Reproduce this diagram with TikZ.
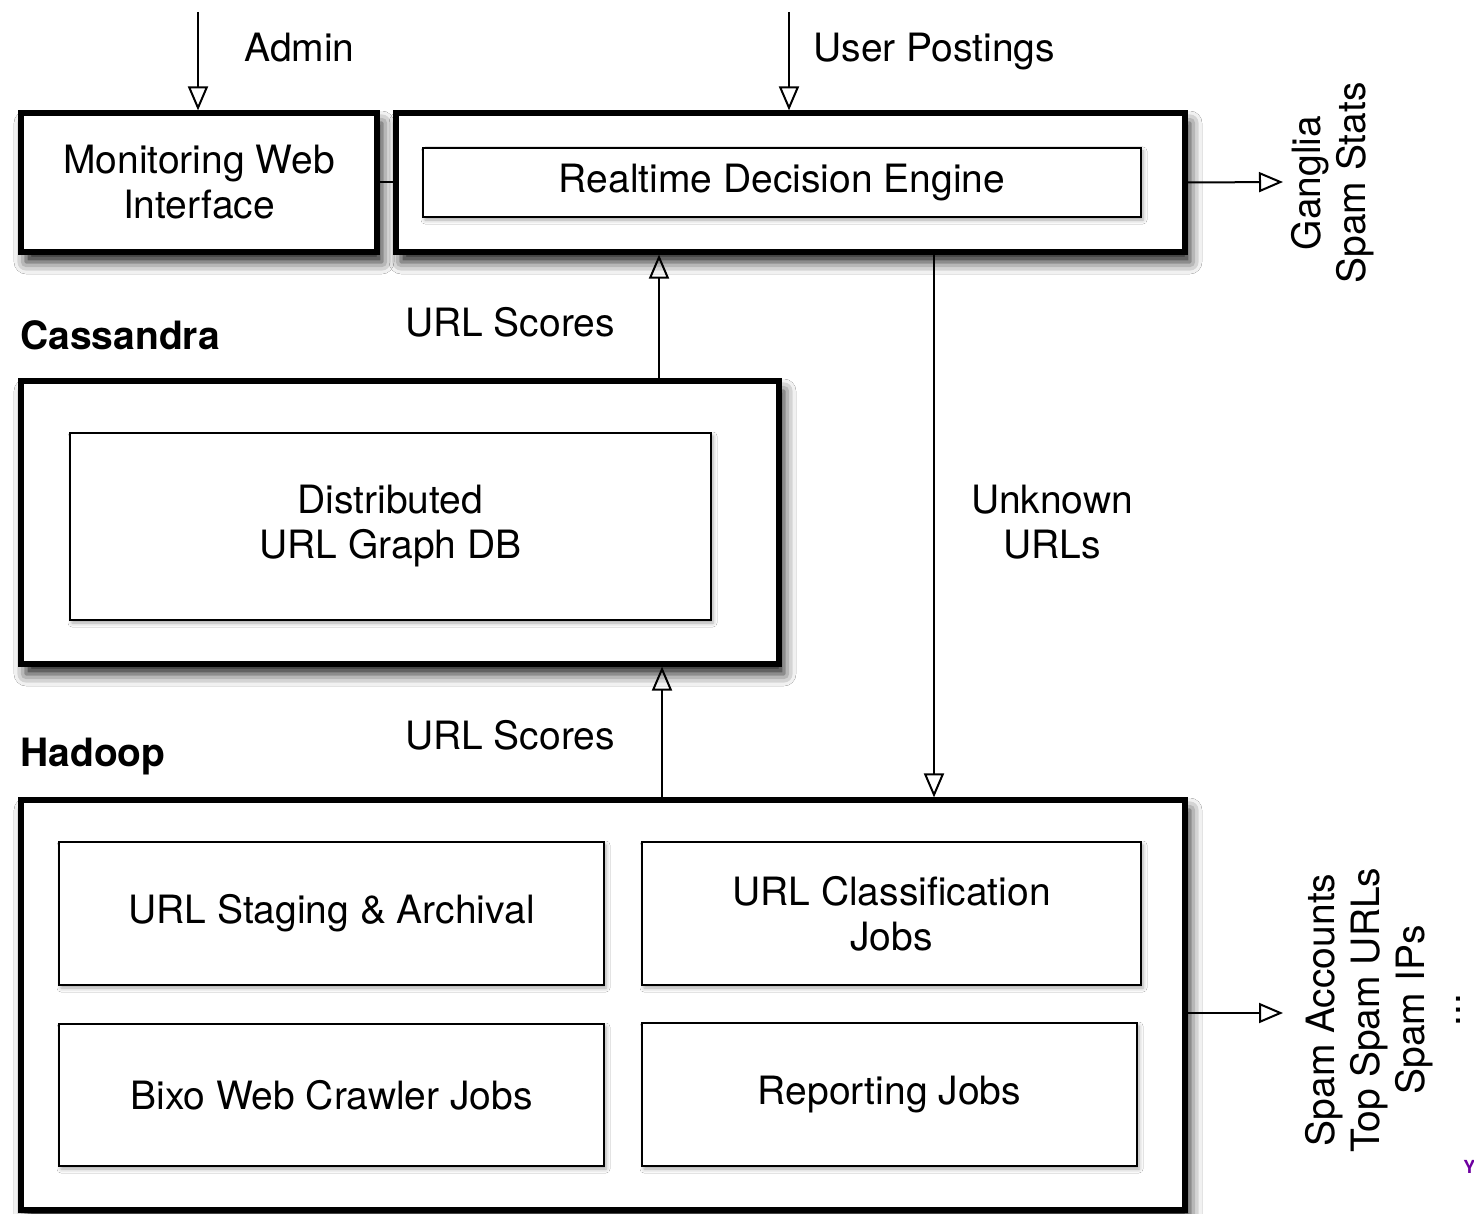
\documentclass[tikz,border=0pt]{standalone}
\usepackage{fontspec}
\setmainfont{TeX Gyre Heros}
\usetikzlibrary{arrows.meta,shadows.blur}
\definecolor{yahoo}{RGB}{110,0,160}
\tikzset{
  outerbox/.style={draw, line width=2.6pt, fill=white, inner sep=0pt, align=center,
    blur shadow={shadow xshift=2.5pt, shadow yshift=-5pt, shadow blur radius=6pt, shadow opacity=90}},
  innerbox/.style={draw, line width=1.2pt, fill=white, inner sep=0pt, align=center,
    blur shadow={shadow xshift=1pt, shadow yshift=-1.5pt, shadow blur radius=2pt, shadow opacity=35}},
  lbl/.style={inner sep=0pt, align=center},
  arr/.style={line width=1pt, -{Triangle[open, length=12pt, width=10pt, line width=1pt]}},
  plain/.style={line width=1pt},
}
\begin{document}
\begin{tikzpicture}[x=0.5pt, y=-0.5pt, font=\fontsize{19.5}{22.5}\selectfont]
\useasboundingbox (0,0) rectangle (1474,1214);
\fill[white] (0,0) rectangle (1474,1214);

% top boxes
\node[outerbox, minimum width=178pt, minimum height=69.5pt] (mon) at (199,182.5) {Monitoring Web\\Interface};
\node[outerbox, minimum width=394.5pt, minimum height=69.5pt] (rde) at (790.5,182.5) {};
\node[innerbox, minimum width=359pt, minimum height=34.5pt] (rdei) at (782,182.5) {\raisebox{-1.5pt}{Realtime Decision Engine}};

% Cassandra
\node[outerbox, minimum width=379pt, minimum height=141.5pt] (cass) at (400,522.5) {};
\node[innerbox, minimum width=320.5pt, minimum height=93.5pt] (cassi) at (390.5,526.5) {Distributed\\URL Graph DB};

% Hadoop
\node[outerbox, minimum width=582pt, minimum height=205pt] (had) at (603,1005) {};
\node[innerbox, minimum width=272.5pt, minimum height=71.5pt] (stage) at (331.5,913.5) {\raisebox{-1.5pt}{URL Staging \& Archival}};
\node[innerbox, minimum width=249.5pt, minimum height=71.5pt] (classif) at (891.5,913.5) {URL Classification\\Jobs};
\node[innerbox, minimum width=272.5pt, minimum height=71pt] (bixo) at (331.5,1095) {Bixo Web Crawler Jobs};
\node[innerbox, minimum width=247.5pt, minimum height=71.5pt] (report) at (889.5,1094.5) {\raisebox{-1.5pt}{Reporting Jobs}};

% labels
\node[lbl, anchor=base west] (admin) at (244,62) {Admin};
\node[lbl, anchor=base west] (user) at (813,62) {User Postings};
\node[lbl, anchor=base west, font=\fontsize{19.5}{22.5}\selectfont\bfseries] (cassl) at (20,350) {Cassandra};
\node[lbl, anchor=base west, font=\fontsize{19.5}{22.5}\selectfont\bfseries] (hadl) at (20,766) {Hadoop};
\node[lbl, anchor=base] (score1) at (510,337) {URL Scores};
\node[lbl, anchor=base] (score2) at (510,749) {URL Scores};
\node[lbl] (unk) at (1052,522) {Unknown\\URLs};
\node[lbl, rotate=90] (gang) at (1333,183) {Ganglia\\Spam Stats};
\node[lbl, rotate=90] (spam) at (1369,1010) {Spam Accounts\\Top Spam URLs\\Spam IPs};
\node[lbl, rotate=90, anchor=base] (dots) at (1460,1010) {...};
\node[lbl, text=yahoo, font=\fontsize{9}{9}\selectfont\bfseries\rmfamily, anchor=west] (ymark) at (1463,1167) {Y};

% coordinates
\coordinate (adminsrc) at (198,12);
\coordinate (usersrc) at (789,12);
\coordinate (gangdst) at (1283,182);
\coordinate (spamdst) at (1283,1013);
\coordinate (xs1) at (659,0);
\coordinate (xs2) at (662,0);
\coordinate (xu) at (934,0);
\coordinate (yh) at (0,1013);

% connectors
\draw[arr] (adminsrc) -- (adminsrc |- mon.north);
\draw[arr] (usersrc) -- (usersrc |- rde.north);
\draw[plain] (mon.east) -- (rde.west);
\draw[arr] (rde.east) -- (gangdst);
\draw[arr] (xs1 |- cass.north) -- (xs1 |- rde.south);
\draw[arr] (xu |- rde.south) -- (xu |- had.north);
\draw[arr] (xs2 |- had.north) -- (xs2 |- cass.south);
\draw[arr] (had.east |- yh) -- (spamdst);
\end{tikzpicture}
\end{document}
